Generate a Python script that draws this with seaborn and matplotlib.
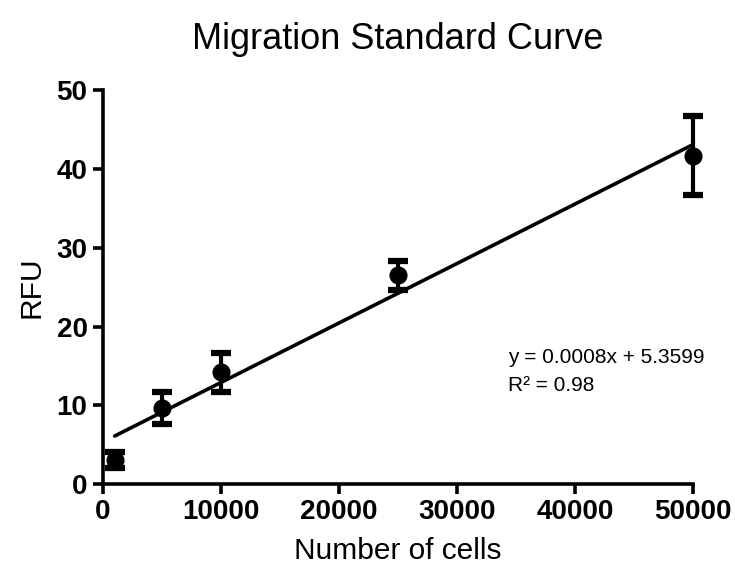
import numpy as np
import pandas as pd
import matplotlib
matplotlib.use("Agg")
import matplotlib.pyplot as plt
import seaborn as sns

# Standard curve measurements
cells = [1000, 5000, 10000, 25000, 50000]
rfu_mean = [3.1, 9.7, 14.2, 26.5, 41.7]
rfu_err = [1.0, 2.0, 2.5, 1.8, 5.0]

# Linear fit parameters
slope = 0.000755
intercept = 5.3599
r_squared = 0.98

x_ticks = [0, 10000, 20000, 30000, 40000, 50000]
y_ticks = [0, 10, 20, 30, 40, 50]

sns.set_theme(style="ticks")
plt.rcParams["font.family"] = ["Liberation Sans", "DejaVu Sans"]

fig = plt.figure(figsize=(7.35, 5.71), dpi=100)
ax = fig.add_axes([0.140, 0.152, 0.803, 0.690])

df = pd.DataFrame({"cells": cells, "rfu": rfu_mean, "err": rfu_err})

# Fitted line over the measured range
fit_x = np.array([min(cells), max(cells)], dtype=float)
fit_df = pd.DataFrame({"cells": fit_x, "rfu": slope * fit_x + intercept})
sns.lineplot(data=fit_df, x="cells", y="rfu", color="black", lw=2.6, ax=ax, zorder=2)

# Error bars and mean markers
eb = ax.errorbar(df["cells"], df["rfu"], yerr=df["err"], fmt="none", ecolor="black",
                 elinewidth=3, capsize=7, capthick=4.5, zorder=3)
for artist in eb.lines[1] + eb.lines[2]:
    artist.set_clip_on(False)
for artist in eb.lines[2]:
    artist.set_clip_on(False)
sc = sns.scatterplot(data=df, x="cells", y="rfu", color="black", s=170, ax=ax,
                     edgecolor="black", linewidth=0, zorder=4, clip_on=False)

ax.set_xlim(0, 50000)
ax.set_ylim(0, 50)
ax.set_xticks(x_ticks)
ax.set_yticks(y_ticks)
ax.set_xticklabels([str(t) for t in x_ticks], fontsize=20, fontweight="bold")
ax.set_yticklabels([str(t) for t in y_ticks], fontsize=20, fontweight="bold")
ax.tick_params(axis="both", direction="out", length=7, width=2.6, color="black",
               pad=4, labelcolor="black")

for side in ["top", "right"]:
    ax.spines[side].set_visible(False)
for side in ["left", "bottom"]:
    ax.spines[side].set_linewidth(2.6)
    ax.spines[side].set_color("black")
    ax.spines[side].set_capstyle("projecting")

ax.set_xlabel("Number of cells", fontsize=21.5, labelpad=8, color="black")
ax.set_ylabel("RFU", fontsize=21.5, labelpad=8, color="black")
ax.set_title("Migration Standard Curve", fontsize=26, pad=30, color="black")

ax.text(34300, 16.1, f"y = {slope:.4f}x + {intercept:.4f}", fontsize=15,
        va="center", ha="left", color="black")
ax.text(34300, 12.5, f"R\u00b2 = {r_squared:.2f}", fontsize=15,
        va="center", ha="left", color="black")

ax.patch.set_alpha(0)
fig.savefig("out.png", dpi=100, facecolor="white")
